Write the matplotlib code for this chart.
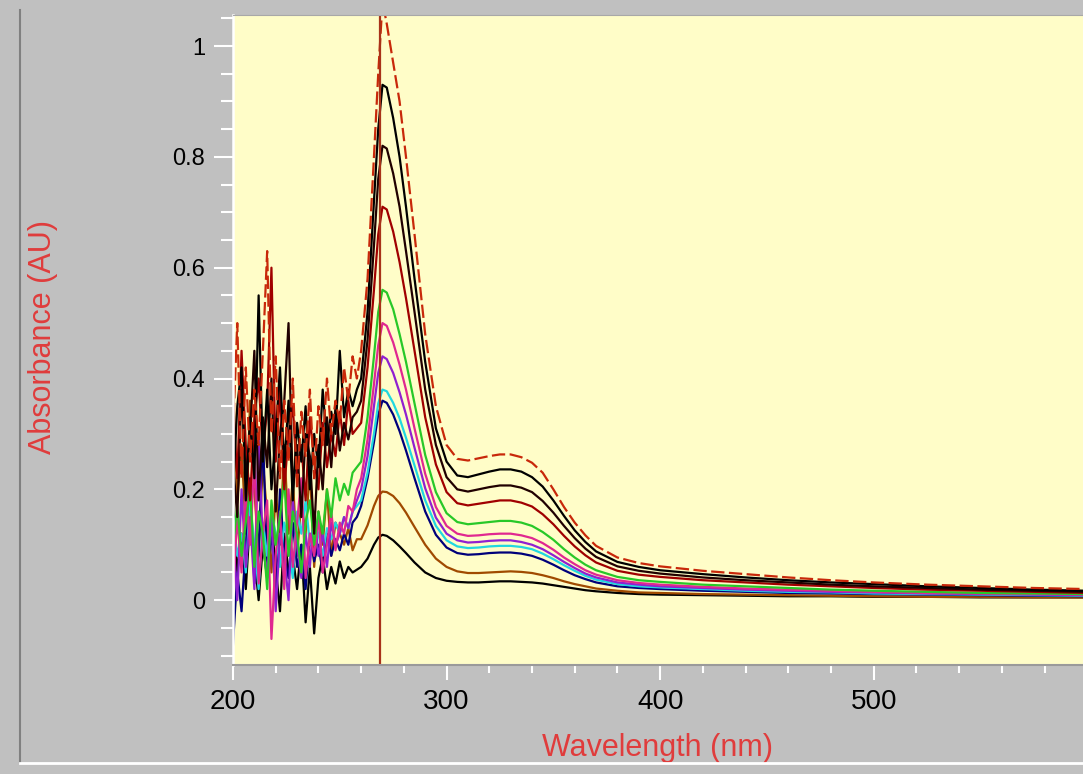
import matplotlib
matplotlib.use("Agg")
import matplotlib.pyplot as plt
from matplotlib.lines import Line2D
from matplotlib.ticker import MultipleLocator

plt.rcParams['font.family'] = ['Liberation Sans', 'DejaVu Sans']

# wavelength grid (nm): noisy UV part, then the band part
wl_noise = list(range(200, 260, 2))
wl_band = [260, 263, 266, 268, 270, 272, 275, 278, 281, 285,
           290, 295, 300, 305, 310, 315, 320, 325, 330, 335,
           340, 345, 350, 355, 360, 365, 370, 380, 390, 400,
           420, 440, 460, 480, 500, 525, 550, 575, 600]
wl = wl_noise + wl_band

# absorbance of each scan
abs_1 = [0.30, 0.50, 0.22, 0.42, 0.25, 0.38, 0.28, 0.45, 0.63, 0.30, 0.44, 0.22, 0.36, 0.25, 0.40,
         0.20, 0.34, 0.26, 0.38, 0.22, 0.35, 0.28, 0.40, 0.30, 0.36, 0.32, 0.42, 0.36, 0.44, 0.40,
         0.45, 0.58, 0.80, 0.95, 1.08, 1.04, 0.97, 0.90, 0.80, 0.66, 0.48, 0.35, 0.28, 0.255, 0.252,
         0.256, 0.26, 0.263, 0.263, 0.258, 0.248, 0.23, 0.20, 0.168, 0.14, 0.117, 0.098, 0.077, 0.067,
         0.061, 0.053, 0.047, 0.041, 0.036, 0.032, 0.028, 0.025, 0.022, 0.020]
abs_2 = [0.20, 0.35, 0.42, 0.18, 0.33, 0.22, 0.55, 0.25, 0.38, 0.20, 0.30, 0.42, 0.24, 0.36, 0.18,
         0.32, 0.25, 0.35, 0.20, 0.30, 0.24, 0.38, 0.28, 0.34, 0.30, 0.45, 0.33, 0.38, 0.35, 0.38,
         0.40, 0.52, 0.72, 0.85, 0.93, 0.925, 0.87, 0.80, 0.71, 0.58, 0.43, 0.31, 0.25, 0.225, 0.222,
         0.227, 0.232, 0.236, 0.236, 0.232, 0.222, 0.205, 0.18, 0.152, 0.126, 0.105, 0.088, 0.069, 0.06,
         0.054, 0.047, 0.041, 0.036, 0.032, 0.029, 0.025, 0.022, 0.019, 0.017]
abs_3 = [0.25, 0.15, 0.38, 0.22, 0.30, 0.45, 0.18, 0.33, 0.24, 0.40, 0.16, 0.30, 0.36, 0.50, 0.20,
         0.28, 0.15, 0.30, 0.26, 0.12, 0.28, 0.20, 0.33, 0.24, 0.35, 0.27, 0.32, 0.29, 0.33, 0.34,
         0.36, 0.47, 0.64, 0.76, 0.82, 0.815, 0.77, 0.71, 0.63, 0.52, 0.38, 0.28, 0.222, 0.20, 0.196,
         0.20, 0.204, 0.207, 0.207, 0.203, 0.195, 0.179, 0.158, 0.134, 0.112, 0.093, 0.078, 0.061, 0.053,
         0.048, 0.041, 0.036, 0.032, 0.028, 0.025, 0.022, 0.019, 0.017, 0.015]
abs_4 = [0.35, 0.22, 0.45, 0.28, 0.18, 0.33, 0.40, 0.26, 0.35, 0.60, 0.25, 0.38, 0.20, 0.30, 0.35,
         0.22, 0.28, 0.18, 0.33, 0.25, 0.20, 0.32, 0.24, 0.30, 0.26, 0.34, 0.28, 0.36, 0.30, 0.31,
         0.32, 0.42, 0.56, 0.66, 0.71, 0.705, 0.665, 0.61, 0.545, 0.45, 0.33, 0.245, 0.195, 0.175, 0.171,
         0.174, 0.177, 0.18, 0.18, 0.176, 0.169, 0.155, 0.137, 0.116, 0.097, 0.081, 0.068, 0.053, 0.046,
         0.042, 0.036, 0.032, 0.028, 0.025, 0.022, 0.019, 0.017, 0.015, 0.013]
abs_5 = [0.10, 0.17, 0.08, 0.14, 0.20, 0.06, 0.16, 0.12, 0.02, 0.18, 0.10, 0.15, 0.22, 0.08, 0.16,
         0.12, 0.05, 0.14, 0.18, 0.10, 0.16, 0.12, 0.20, 0.15, 0.22, 0.18, 0.21, 0.19, 0.23, 0.24,
         0.25, 0.33, 0.44, 0.52, 0.56, 0.555, 0.525, 0.48, 0.43, 0.355, 0.262, 0.195, 0.157, 0.141, 0.137,
         0.139, 0.141, 0.143, 0.143, 0.14, 0.134, 0.123, 0.109, 0.092, 0.077, 0.064, 0.054, 0.042, 0.036,
         0.033, 0.028, 0.025, 0.022, 0.019, 0.017, 0.015, 0.013, 0.012, 0.011]
abs_6 = [0.02, 0.15, 0.05, 0.20, 0.10, 0.25, 0.03, 0.12, 0.18, -0.07, 0.08, 0.16, 0.02, 0.20, 0.06,
         0.14, 0.22, 0.04, 0.12, 0.08, 0.15, 0.05, 0.10, 0.16, 0.09, 0.14, 0.12, 0.17, 0.16, 0.20,
         0.22, 0.29, 0.39, 0.46, 0.50, 0.495, 0.465, 0.425, 0.38, 0.31, 0.228, 0.168, 0.134, 0.12, 0.116,
         0.117, 0.119, 0.12, 0.12, 0.117, 0.112, 0.103, 0.091, 0.077, 0.065, 0.054, 0.046, 0.036, 0.031,
         0.028, 0.024, 0.021, 0.019, 0.017, 0.015, 0.013, 0.012, 0.011, 0.010]
abs_7 = [0.12, 0.00, 0.20, 0.06, 0.15, 0.02, 0.30, 0.10, 0.05, 0.15, -0.02, 0.12, 0.08, 0.00, 0.18,
         0.10, 0.04, 0.12, 0.06, 0.16, 0.08, 0.12, 0.06, 0.14, 0.10, 0.12, 0.15, 0.13, 0.16, 0.18,
         0.20, 0.26, 0.35, 0.41, 0.44, 0.435, 0.41, 0.375, 0.335, 0.275, 0.202, 0.149, 0.12, 0.108, 0.104,
         0.105, 0.107, 0.108, 0.108, 0.105, 0.10, 0.092, 0.081, 0.069, 0.058, 0.048, 0.041, 0.032, 0.028,
         0.025, 0.022, 0.019, 0.017, 0.015, 0.014, 0.012, 0.011, 0.010, 0.009]
abs_8 = [0.15, 0.08, 0.12, 0.05, 0.18, 0.10, 0.02, 0.14, 0.08, 0.16, 0.12, 0.06, 0.14, 0.10, 0.04,
         0.16, 0.12, 0.18, 0.10, 0.14, 0.12, 0.08, 0.13, 0.11, 0.14, 0.12, 0.15, 0.13, 0.16, 0.17,
         0.18, 0.23, 0.30, 0.355, 0.38, 0.377, 0.356, 0.328, 0.293, 0.243, 0.18, 0.134, 0.108, 0.097, 0.094,
         0.095, 0.097, 0.098, 0.098, 0.096, 0.092, 0.084, 0.074, 0.063, 0.053, 0.044, 0.037, 0.029, 0.025,
         0.023, 0.020, 0.017, 0.015, 0.014, 0.012, 0.011, 0.010, 0.009, 0.008]
abs_9 = [-0.08, 0.05, -0.02, 0.10, 0.22, 0.03, 0.08, 0.30, 0.06, 0.12, 0.02, 0.20, 0.08, 0.04, 0.14,
         0.06, 0.10, 0.02, 0.12, 0.07, 0.10, 0.05, 0.12, 0.08, 0.11, 0.09, 0.12, 0.10, 0.14, 0.15,
         0.17, 0.22, 0.285, 0.335, 0.36, 0.356, 0.335, 0.305, 0.27, 0.22, 0.16, 0.118, 0.095, 0.085, 0.082,
         0.083, 0.085, 0.086, 0.086, 0.084, 0.08, 0.073, 0.064, 0.054, 0.045, 0.038, 0.032, 0.025, 0.022,
         0.020, 0.017, 0.015, 0.013, 0.012, 0.011, 0.010, 0.009, 0.008, 0.007]
abs_10 = [0.40, 0.18, 0.28, 0.12, 0.36, 0.20, 0.08, 0.25, 0.15, 0.05, 0.20, 0.10, 0.28, 0.12, 0.22,
          0.08, 0.18, 0.12, 0.24, 0.06, 0.16, 0.10, 0.20, 0.08, 0.14, 0.12, 0.10, 0.13, 0.09, 0.11,
          0.11, 0.135, 0.17, 0.188, 0.196, 0.195, 0.188, 0.175, 0.158, 0.132, 0.10, 0.075, 0.06, 0.052, 0.049,
          0.049, 0.05, 0.051, 0.052, 0.051, 0.049, 0.045, 0.04, 0.034, 0.029, 0.025, 0.021, 0.017, 0.014,
          0.013, 0.011, 0.010, 0.009, 0.008, 0.007, 0.006, 0.006, 0.005, 0.005]
abs_11 = [0.18, 0.05, 0.12, 0.02, 0.15, 0.08, 0.00, 0.10, 0.04, 0.14, 0.06, -0.02, 0.12, 0.05, 0.08,
          0.02, 0.10, -0.04, 0.06, -0.06, 0.04, 0.08, 0.02, 0.06, 0.03, 0.07, 0.04, 0.06, 0.05, 0.055,
          0.06, 0.075, 0.10, 0.113, 0.118, 0.116, 0.108, 0.097, 0.085, 0.068, 0.05, 0.04, 0.035, 0.033, 0.032,
          0.032, 0.033, 0.034, 0.034, 0.033, 0.032, 0.03, 0.027, 0.024, 0.021, 0.018, 0.016, 0.013, 0.011,
          0.010, 0.009, 0.008, 0.007, 0.007, 0.006, 0.006, 0.005, 0.005, 0.005]

scans = [abs_11, abs_10, abs_9, abs_8, abs_7, abs_6, abs_5, abs_4, abs_3, abs_2, abs_1]
colors = ["#000000", "#A04A00", "#00007A", "#20D8E0", "#9020D0", "#E02890",
          "#28C828", "#A00000", "#200000", "#000000", "#C8280A"]

marker_wl = 269

fig = plt.figure(figsize=(10.83, 7.74), dpi=100, facecolor="#C0C0C0")
ax = fig.add_axes([233 / 1083, 1 - 665 / 774, 1 - 233 / 1083, 650 / 774])
ax.set_facecolor("#FFFDC8")

for vals, col in zip(scans, colors):
    ls = (0, (6, 2)) if vals is abs_1 else "-"
    ax.plot(wl, vals, color=col, lw=1.6, ls=ls)

ax.axvline(marker_wl, color="#A83218", lw=1.6)

ax.set_xlim(200, 598)
ax.set_ylim(-0.117, 1.056)

ax.set_xticks([200, 300, 400, 500])
ax.xaxis.set_minor_locator(MultipleLocator(20))
ax.set_yticks([0, 0.2, 0.4, 0.6, 0.8, 1.0])
ax.set_yticklabels(["0", "0.2", "0.4", "0.6", "0.8", "1"])
ax.yaxis.set_minor_locator(MultipleLocator(0.05))

ax.tick_params(axis="y", which="major", length=14, width=1.5, color="white",
               pad=6, labelsize=17, labelcolor="black")
ax.tick_params(axis="y", which="minor", length=9, width=1.5, color="white")
ax.tick_params(axis="x", which="major", length=11, width=1.5, color="white",
               pad=6, labelsize=20, labelcolor="black")
ax.tick_params(axis="x", which="minor", length=6, width=1.5, color="white")

ax.spines["left"].set_color("white")
ax.spines["left"].set_linewidth(1.8)
ax.spines["bottom"].set_color("#9A9A9A")
ax.spines["bottom"].set_linewidth(1.5)
ax.spines["top"].set_color("#A8A8A8")
ax.spines["right"].set_visible(False)

ax.set_xlabel("Wavelength (nm)", color="#E03C3C", fontsize=22, labelpad=13)
ax.set_ylabel("Absorbance (AU)", color="#E03C3C", fontsize=22)
ax.yaxis.set_label_coords((58 - 233) / 850, 0.505)

# panel frame around the chart
fig.add_artist(Line2D([20 / 1083, 20 / 1083], [1 - 762 / 774, 1 - 10 / 774],
                      transform=fig.transFigure, color="#808080", lw=1.5))
fig.add_artist(Line2D([20 / 1083, 1.0], [1 - 763 / 774, 1 - 763 / 774],
                      transform=fig.transFigure, color="white", lw=2))

fig.savefig("out.png", dpi=100, facecolor=fig.get_facecolor())
